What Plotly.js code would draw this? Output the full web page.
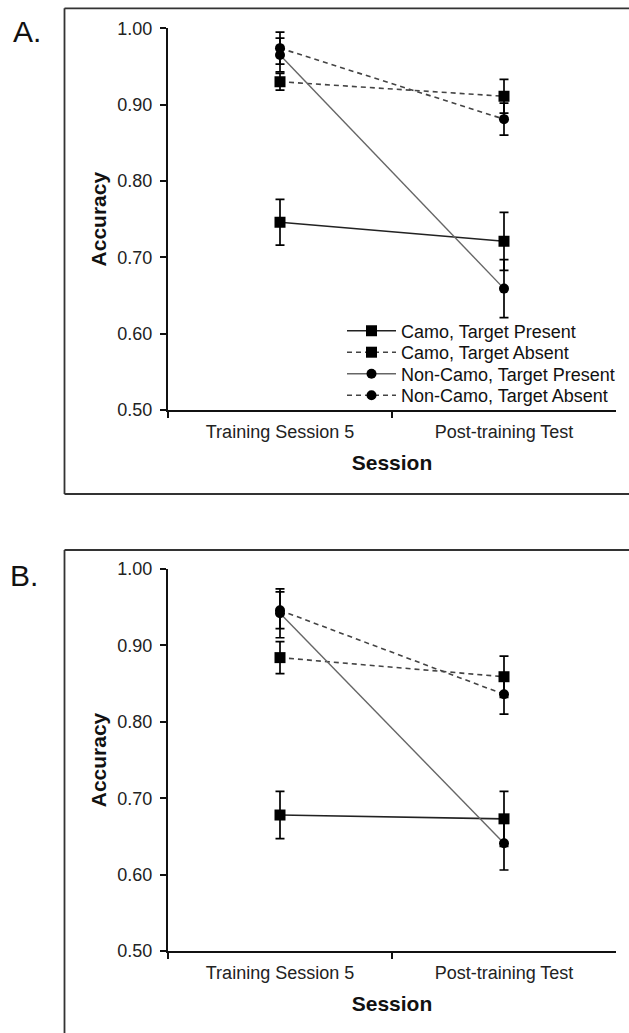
<!DOCTYPE html>
<html>
<head>
<meta charset="utf-8">
<script src="https://cdn.plot.ly/plotly-3.0.1.min.js"></script>
<style>html,body{margin:0;padding:0;background:#fff;}#chart{width:629px;height:1033px;}</style>
</head>
<body>
<div id="chart"></div>
<script>
// ---- data ----
const categories = ["Training Session 5", "Post-training Test"];
const seriesNames = ["Camo, Target Present", "Camo, Target Absent", "Non-Camo, Target Present", "Non-Camo, Target Absent"];
const yTicks = [0.5, 0.6, 0.7, 0.8, 0.9, 1.0];

// Panel A
const A_camoPresent = [0.746, 0.721];
const A_camoPresentErr = [0.030, 0.038];
const A_camoAbsent = [0.930, 0.911];
const A_camoAbsentErr = [0.011, 0.022];
const A_nonCamoPresent = [0.965, 0.659];
const A_nonCamoPresentErr = [0.022, 0.038];
const A_nonCamoAbsent = [0.974, 0.881];
const A_nonCamoAbsentErr = [0.021, 0.021];

// Panel B
const B_camoPresent = [0.678, 0.673];
const B_camoPresentErr = [0.031, 0.036];
const B_camoAbsent = [0.884, 0.859];
const B_camoAbsentErr = [0.021, 0.027];
const B_nonCamoPresent = [0.942, 0.641];
const B_nonCamoPresentErr = [0.032, 0.035];
const B_nonCamoAbsent = [0.946, 0.836];
const B_nonCamoAbsentErr = [0.024, 0.026];

// ---- styling ----
const W = 629, H = 1033;
const FONT = "Liberation Sans, Arial, sans-serif";
const styles = [
  {symbol: "square", size: 11, line: {color: "#222", width: 1.6, dash: "solid"}},
  {symbol: "square", size: 11, line: {color: "#444", width: 1.6, dash: "5px,4px"}},
  {symbol: "circle", size: 10, line: {color: "#666", width: 1.4, dash: "solid"}},
  {symbol: "circle", size: 10, line: {color: "#444", width: 1.6, dash: "5px,4px"}}
];
const legendIds = ["legend", "legend2", "legend3", "legend4"];
const legendRowY = [331, 352.5, 374, 395.5];

function mk(vals, errs, i, xa, ya, showLegend) {
  return {
    type: "scatter", mode: "lines+markers",
    x: categories, y: vals, name: seriesNames[i],
    xaxis: xa, yaxis: ya, showlegend: showLegend,
    legend: legendIds[i],
    line: styles[i].line,
    marker: {symbol: styles[i].symbol, size: styles[i].size, color: "#000"},
    error_y: {type: "data", array: errs, visible: true, color: "#000", thickness: 1.7, width: 4.5},
    hoverinfo: "skip"
  };
}

const traces = [
  mk(A_camoPresent, A_camoPresentErr, 0, "x", "y", true),
  mk(A_camoAbsent, A_camoAbsentErr, 1, "x", "y", true),
  mk(A_nonCamoPresent, A_nonCamoPresentErr, 2, "x", "y", true),
  mk(A_nonCamoAbsent, A_nonCamoAbsentErr, 3, "x", "y", true),
  mk(B_camoPresent, B_camoPresentErr, 0, "x2", "y2", false),
  mk(B_camoAbsent, B_camoAbsentErr, 1, "x2", "y2", false),
  mk(B_nonCamoPresent, B_nonCamoPresentErr, 2, "x2", "y2", false),
  mk(B_nonCamoAbsent, B_nonCamoAbsentErr, 3, "x2", "y2", false)
];

const px = v => v / W;
const py = v => 1 - v / H;

function xAxis(anchor) {
  return {
    domain: [px(168), px(616)], anchor: anchor,
    type: "category", range: [-0.5, 1.5],
    showline: true, linecolor: "#111", linewidth: 2,
    ticks: "outside", tickson: "boundaries", ticklen: 6, tickcolor: "#111", tickwidth: 2,
    showgrid: false, zeroline: false, ticklabelstandoff: 4,
    tickfont: {family: FONT, size: 18, color: "#222"},
    title: {text: "<b>Session</b>", font: {family: FONT, size: 21, color: "#111"}, standoff: 15}
  };
}
function yAxis(anchor, top, bottom) {
  return {
    domain: [py(bottom), py(top)], anchor: anchor,
    range: [0.5, 1.0], tickvals: yTicks, tickformat: ".2f",
    showline: true, linecolor: "#111", linewidth: 2,
    ticks: "outside", ticklen: 6, tickcolor: "#111", tickwidth: 2,
    showgrid: false, zeroline: false, ticklabelstandoff: 4,
    tickfont: {family: FONT, size: 18, color: "#222"},
    title: {text: "<b>Accuracy</b>", font: {family: FONT, size: 21, color: "#111"}, standoff: 5}
  };
}

function legendAt(rowY) {
  return {
    x: px(342), y: py(rowY), xanchor: "left", yanchor: "middle",
    bgcolor: "rgba(0,0,0,0)", borderwidth: 0,
    font: {family: FONT, size: 18, color: "#111"},
    itemwidth: 49
  };
}

const layout = {
  width: W, height: H,
  margin: {l: 0, r: 0, t: 0, b: 0},
  paper_bgcolor: "#fff", plot_bgcolor: "rgba(0,0,0,0)",
  xaxis: xAxis("y"),
  yaxis: yAxis("x", 28.3, 410),
  xaxis2: xAxis("y2"),
  yaxis2: yAxis("x2", 569, 951),
  showlegend: true,
  legend: legendAt(legendRowY[0]),
  legend2: legendAt(legendRowY[1]),
  legend3: legendAt(legendRowY[2]),
  legend4: legendAt(legendRowY[3]),
  shapes: [
    {type: "line", xref: "paper", yref: "paper", x0: px(64.5), x1: px(64.5), y0: py(8.3), y1: py(494), line: {color: "#333", width: 1.8}},
    {type: "line", xref: "paper", yref: "paper", x0: px(64.5), x1: 1, y0: py(8.3), y1: py(8.3), line: {color: "#333", width: 1.8}},
    {type: "line", xref: "paper", yref: "paper", x0: px(64.5), x1: 1, y0: py(494), y1: py(494), line: {color: "#333", width: 1.8}},
    {type: "line", xref: "paper", yref: "paper", x0: px(64.5), x1: px(64.5), y0: py(550), y1: 0, line: {color: "#333", width: 1.8}},
    {type: "line", xref: "paper", yref: "paper", x0: px(64.5), x1: 1, y0: py(550), y1: py(550), line: {color: "#333", width: 1.8}}
  ],
  annotations: [
    {text: "A.", xref: "paper", yref: "paper", x: px(11), y: py(31), xanchor: "left", yanchor: "middle", showarrow: false, font: {family: FONT, size: 30, color: "#111"}},
    {text: "B.", xref: "paper", yref: "paper", x: px(8), y: py(575), xanchor: "left", yanchor: "middle", showarrow: false, font: {family: FONT, size: 30, color: "#111"}}
  ]
};

Plotly.newPlot("chart", traces, layout, {staticPlot: true, displayModeBar: false});
</script>
</body>
</html>
